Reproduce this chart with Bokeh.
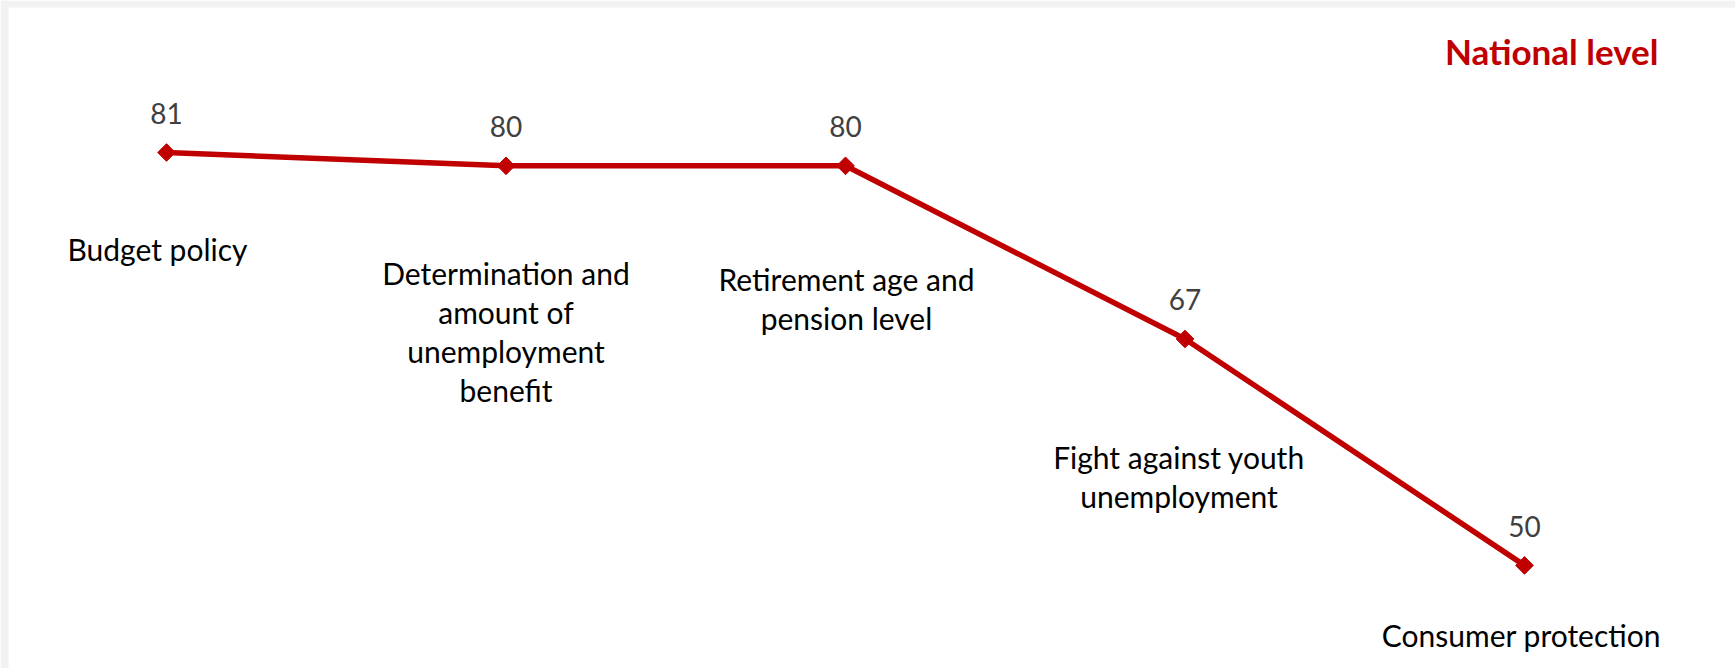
from bokeh.plotting import figure
from bokeh.models import Range1d, Label, ColumnDataSource, BoxAnnotation
from bokeh.embed import file_html
from bokeh.resources import INLINE
from bokeh.core.properties import value
import math

# ---- data ----
categories = [
    "Budget policy",
    "Determination and\namount of\nunemployment\nbenefit",
    "Retirement age and\npension level",
    "Fight against youth\nunemployment",
    "Consumer protection",
]
values = [81, 80, 80, 67, 50]
title_text = "National level"

# ---- layout constants (pixels) ----
W, H = 1735, 668
BAND_L, BAND_T = 8, 7                    # grey page bands (left, top)
X0_PX, DX_PX = 166, 339.5                # canvas x of first point, spacing between points
Y_TOP_PX, PX_PER_UNIT = 152, 13.32       # canvas y (from top) of the max value, pixels per unit
LABEL_DX = [-9, 0, 1, -6, -3]            # category label offsets from their point
LABEL_DY = [96, 107, 113, 118, 70]
LINE_STEP = 39
TITLE_X_PX, TITLE_Y_PX = 1658, 50        # canvas position of title (right edge, middle)
RED = "#C00000"
GREY = "#f2f2f2"
FONT = "Lato"

xs = list(range(len(categories)))
ymax = max(values)
y_top = ymax + Y_TOP_PX / PX_PER_UNIT
y_bot = y_top - H / PX_PER_UNIT
x_start = -X0_PX / DX_PX
x_end = x_start + W / DX_PX

p = figure(width=W, height=H, output_backend="svg", toolbar_location=None,
           x_range=Range1d(x_start, x_end), y_range=Range1d(y_bot, y_top),
           x_axis_type=None, y_axis_type=None, min_border=0)
p.min_border_left = p.min_border_top = p.min_border_right = p.min_border_bottom = 0
p.grid.visible = False
p.outline_line_color = None
p.background_fill_color = "white"
p.border_fill_color = "white"

# grey page bands on top and left
p.add_layout(BoxAnnotation(bottom=y_top - BAND_T / PX_PER_UNIT, fill_color=GREY,
                           fill_alpha=1, line_color=None, level="underlay"))
p.add_layout(BoxAnnotation(right=x_start + BAND_L / DX_PX, fill_color=GREY,
                           fill_alpha=1, line_color=None, level="underlay"))

src = ColumnDataSource(dict(x=xs, y=values, lab=[str(v) for v in values]))
p.line("x", "y", source=src, line_color=RED, line_width=5.5)
p.scatter("x", "y", source=src, marker="square", size=12.5, angle=math.pi / 4,
          fill_color=RED, line_color=RED)

p.text("x", "y", text="lab", source=src, text_font=value(FONT), text_font_size="28px",
       text_color="#404040", text_align="center", text_baseline="middle", y_offset=-39)

# category labels, one glyph per line
for i, (cat, v) in enumerate(zip(categories, values)):
    lines = cat.split("\n")
    n = len(lines)
    p.text(x=[i] * n, y=[v] * n, text=lines,
           x_offset=LABEL_DX[i],
           y_offset=[LABEL_DY[i] + k * LINE_STEP for k in range(n)],
           text_font=value(FONT), text_font_size="30px", text_color="#000000",
           text_align="center", text_baseline="middle")

p.add_layout(Label(x=x_start + TITLE_X_PX / DX_PX, y=y_top - TITLE_Y_PX / PX_PER_UNIT,
                   text=title_text, text_font=FONT, text_font_size="35px",
                   text_font_style="bold", text_color=RED,
                   text_align="right", text_baseline="middle"))

open("out.html", "w").write(file_html(p, INLINE))
